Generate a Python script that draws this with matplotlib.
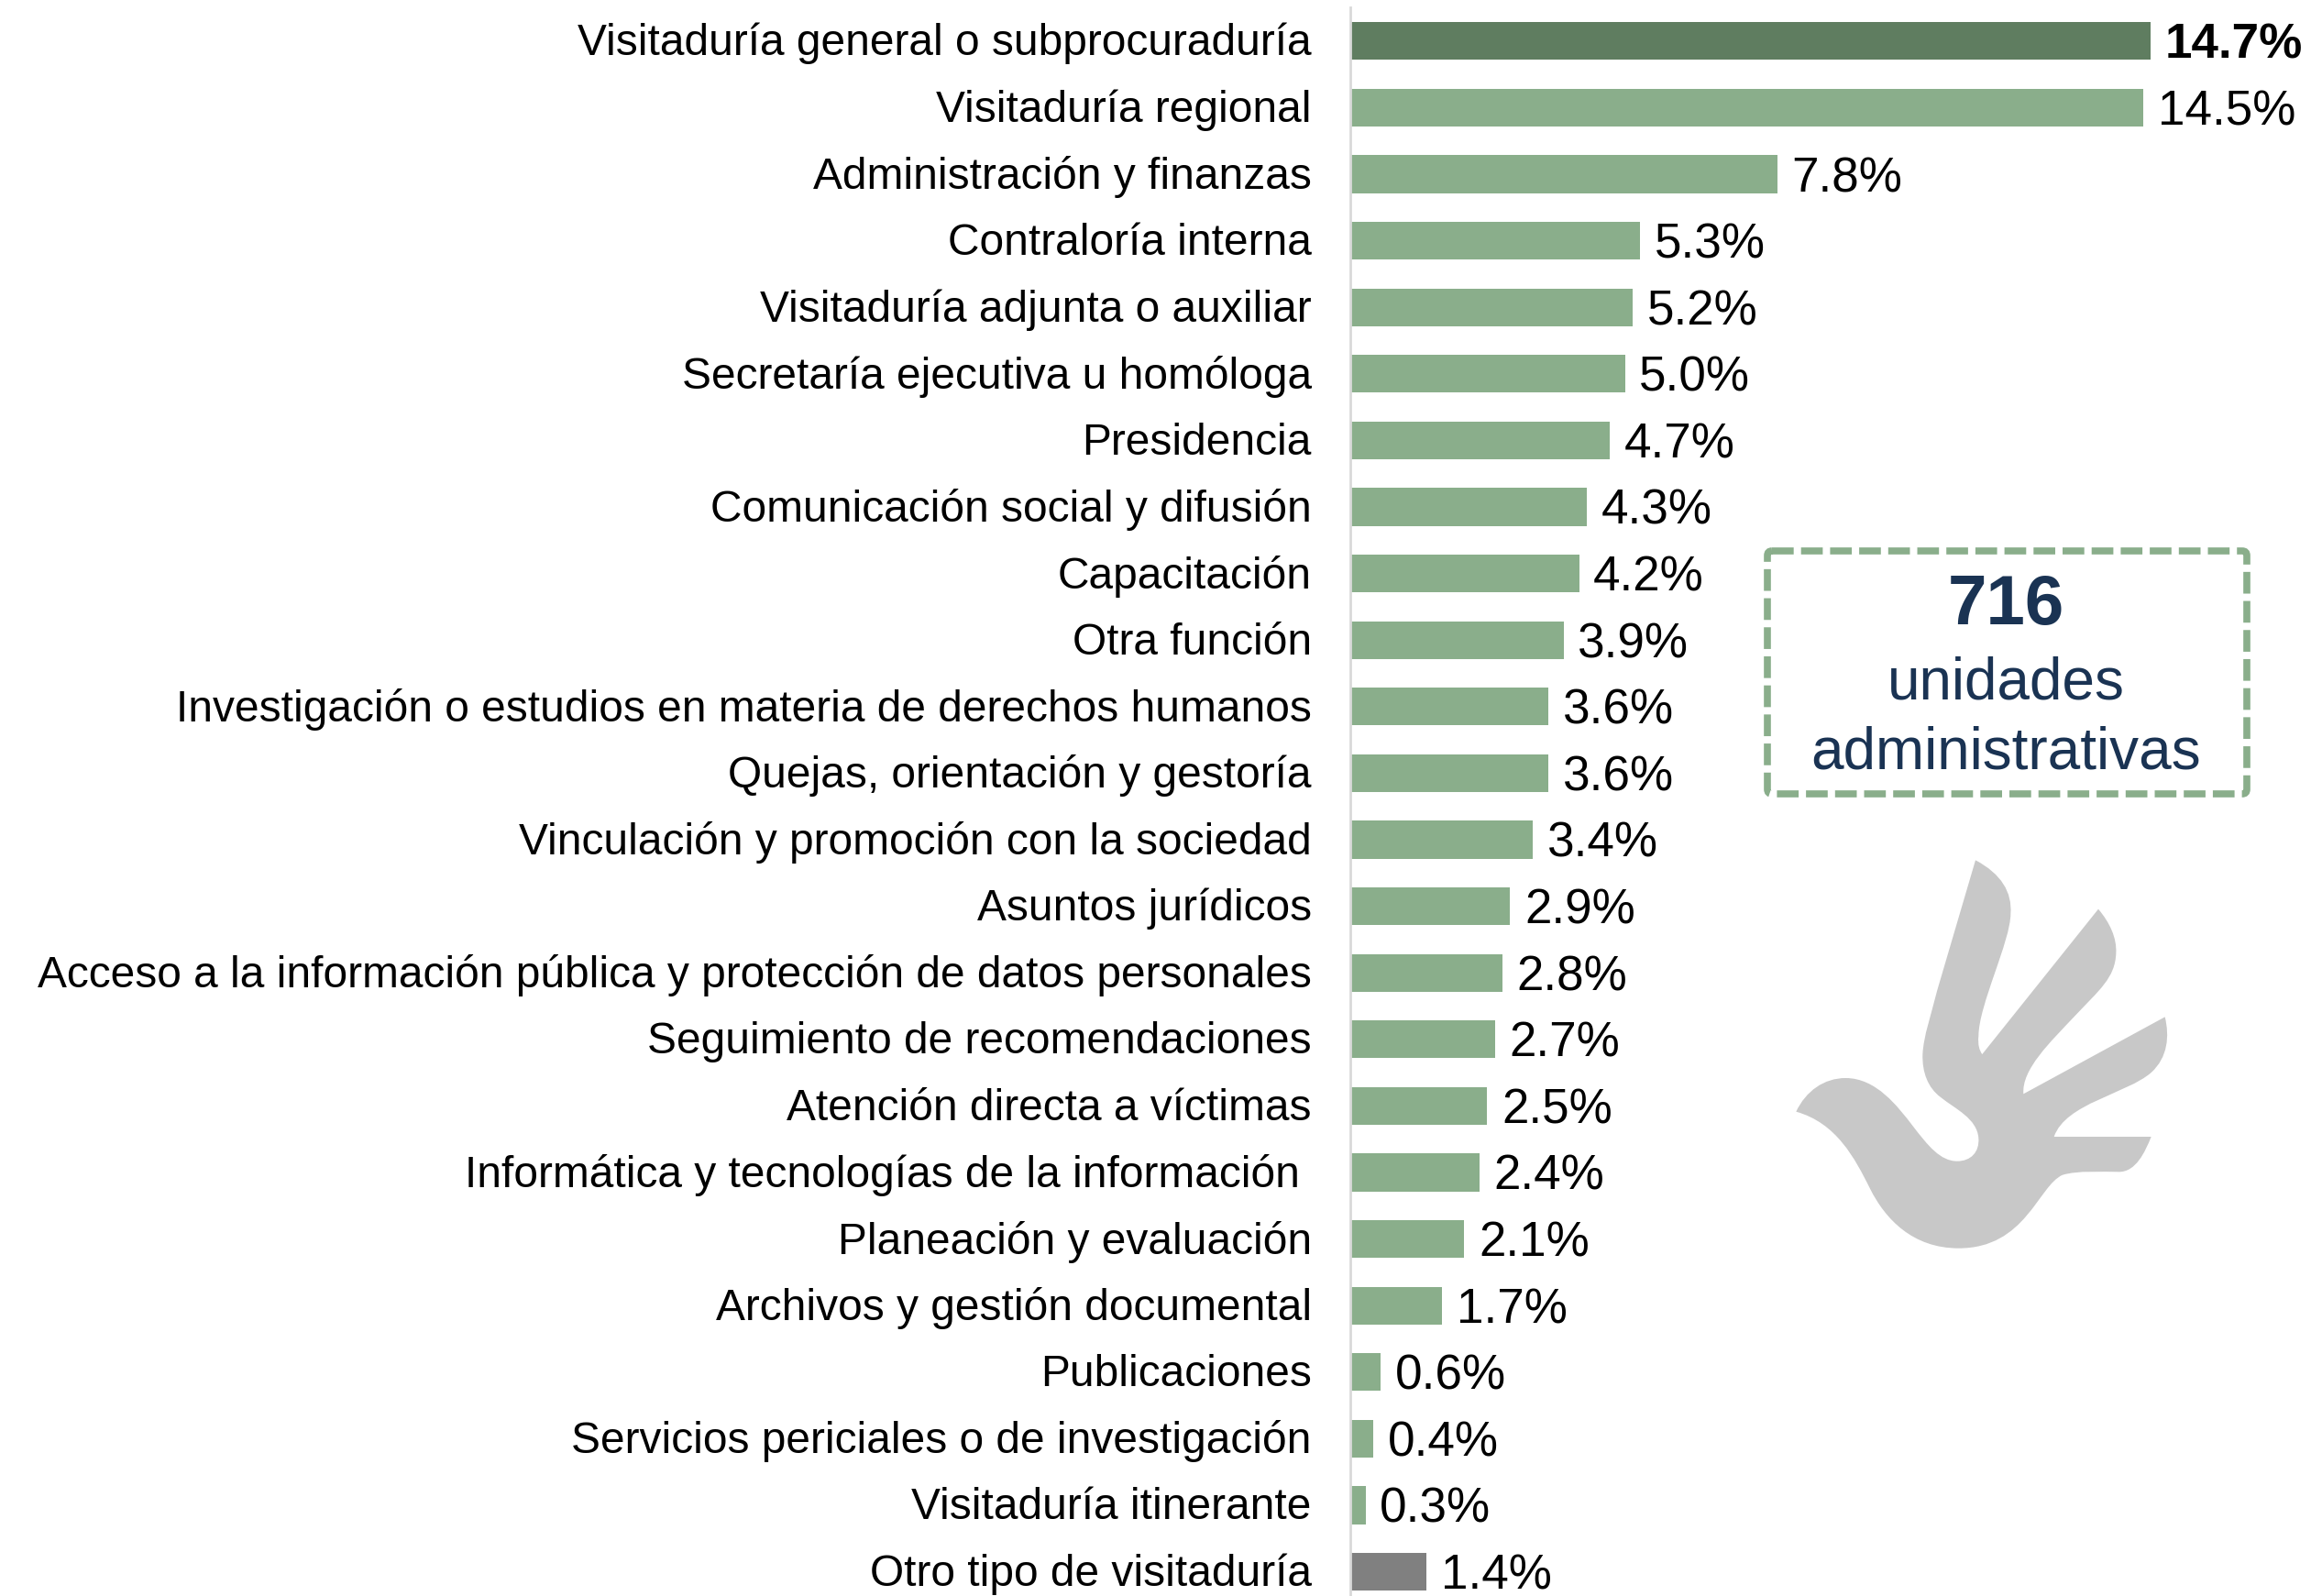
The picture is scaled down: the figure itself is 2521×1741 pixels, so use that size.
# plot.py
# Unidades administrativas por función: barras horizontales con recuadro y logo

import matplotlib
matplotlib.use("Agg")
import matplotlib.pyplot as plt
from matplotlib.patches import FancyBboxPatch, PathPatch
from matplotlib.path import Path
from matplotlib.transforms import Affine2D, ScaledTranslation

categorias = [
    "Visitaduría general o subprocuraduría",
    "Visitaduría regional",
    "Administración y finanzas",
    "Contraloría interna",
    "Visitaduría adjunta o auxiliar",
    "Secretaría ejecutiva u homóloga",
    "Presidencia",
    "Comunicación social y difusión",
    "Capacitación",
    "Otra función",
    "Investigación o estudios en materia de derechos humanos",
    "Quejas, orientación y gestoría",
    "Vinculación y promoción con la sociedad",
    "Asuntos jurídicos",
    "Acceso a la información pública y protección de datos personales",
    "Seguimiento de recomendaciones",
    "Atención directa a víctimas",
    "Informática y tecnologías de la información ",
    "Planeación y evaluación",
    "Archivos y gestión documental",
    "Publicaciones",
    "Servicios periciales o de investigación",
    "Visitaduría itinerante",
    "Otro tipo de visitaduría",
]
# Largo de cada barra (algo más fino que la etiqueta)
valores = [14.66, 14.53, 7.82, 5.31, 5.17, 5.03, 4.75, 4.33, 4.19, 3.91, 3.63, 3.63,
           3.35, 2.93, 2.79, 2.65, 2.51, 2.37, 2.09, 1.68, 0.56, 0.42, 0.28, 1.40]
etiquetas = ["14.7%", "14.5%", "7.8%", "5.3%", "5.2%", "5.0%", "4.7%", "4.3%",
             "4.2%", "3.9%", "3.6%", "3.6%", "3.4%", "2.9%", "2.8%", "2.7%",
             "2.5%", "2.4%", "2.1%", "1.7%", "0.6%", "0.4%", "0.3%", "1.4%"]

VERDE = "#8AAE8B"
VERDE_OSC = "#5F7D60"
GRIS = "#808080"
AZUL = "#1A3353"

plt.rcParams["font.family"] = ["Liberation Sans", "DejaVu Sans"]

W, H = 2521, 1741
fig = plt.figure(figsize=(W / 100, H / 100), dpi=100)

# Eje: x=0 en el pixel 1473, 59.55 px por punto porcentual
x0 = 1473
ax = fig.add_axes([x0 / W, 0, (W - x0) / W, 1])
ax.set_xlim(0, (W - x0) / 59.55)
ax.set_ylim((H - 44.8) / 72.6, -44.8 / 72.6)

colores = [VERDE] * len(valores)
colores[0] = VERDE_OSC
colores[-1] = GRIS
posiciones = list(range(len(valores)))
ax.barh(posiciones, valores, height=0.57, color=colores)

for i, v in enumerate(valores):
    ax.annotate(etiquetas[i], (v, i), xytext=(11.2, -3.6), textcoords="offset points",
                va="center", ha="left", fontsize=38.2, color="black",
                fontweight="bold" if i == 0 else "normal")

ax.set_yticks(posiciones)
ax.set_yticklabels(categorias, fontsize=34.5, color="black")
ax.tick_params(axis="y", length=0, pad=30.5)
sube = ScaledTranslation(0, 1.5 / 72, fig.dpi_scale_trans)
for etiqueta in ax.get_yticklabels():
    etiqueta.set_transform(etiqueta.get_transform() + sube)
ax.xaxis.set_visible(False)
for lado in ["top", "right", "bottom"]:
    ax.spines[lado].set_visible(False)
ax.spines["left"].set_color("#D9D9D9")
ax.spines["left"].set_linewidth(2)
ax.spines["left"].set_bounds(-0.507, (H - 44.8) / 72.6)

# Transformación en pixeles desde la esquina superior izquierda
px = Affine2D().scale(1, -1).translate(0, H)

# Recuadro punteado
caja = FancyBboxPatch((1928, 601), 523, 265, boxstyle="round,pad=0,rounding_size=5",
                      fill=False, edgecolor=VERDE, linewidth=5.5,
                      linestyle=(0, (3.1, 1.05)), capstyle="butt", transform=px)
fig.add_artist(caja)

fig.text(2188 / W, 1 - 661.5 / H, "716", fontsize=55, fontweight="bold", color=AZUL,
         ha="center", va="center")
fig.text(2188 / W, 1 - 746 / H, "unidades", fontsize=46, color=AZUL,
         ha="center", va="center")
fig.text(2188 / W, 1 - 821 / H, "administrativas", fontsize=46, color=AZUL,
         ha="center", va="center")

# Logo (mano-paloma), contorno con curvas de Bezier en coordenadas del recorte
contorno = [
    ("M", (765, 115)),
    ("C", (850, 160), (885, 220), (880, 290)),
    ("C", (880, 380), (775, 590), (775, 690)),
    ("C", (772, 720), (778, 738), (787, 750)),
    ("L", (1167, 275)),
    ("C", (1205, 320), (1228, 370), (1225, 420)),
    ("C", (1222, 500), (1170, 540), (1090, 625)),
    ("C", (1010, 710), (915, 800), (922, 880)),
    ("L", (1385, 628)),
    ("C", (1400, 690), (1395, 760), (1340, 810)),
    ("C", (1260, 880), (1060, 910), (1022, 1020)),
    ("L", (1340, 1020)),
    ("C", (1320, 1070), (1290, 1135), (1235, 1135)),
    ("C", (1180, 1135), (1100, 1130), (1050, 1145)),
    ("C", (970, 1180), (930, 1385), (710, 1385)),
    ("C", (560, 1385), (470, 1290), (420, 1190)),
    ("C", (370, 1090), (310, 975), (178, 938)),
    ("C", (210, 870), (270, 828), (340, 828)),
    ("C", (440, 828), (510, 920), (560, 985)),
    ("C", (610, 1050), (650, 1100), (705, 1100)),
    ("C", (750, 1100), (778, 1070), (775, 1025)),
    ("C", (770, 960), (700, 930), (650, 890)),
    ("C", (610, 860), (590, 810), (592, 750)),
    ("C", (595, 690), (620, 620), (640, 540)),
    ("L", (765, 115)),
]
verts, codes = [], []
for seg in contorno:
    tipo, puntos = seg[0], seg[1:]
    for p in puntos:
        verts.append((1900 + p[0] / 3, 900 + p[1] / 3))
    if tipo == "M":
        codes.append(Path.MOVETO)
    elif tipo == "L":
        codes.append(Path.LINETO)
    else:
        codes.extend([Path.CURVE4] * 3)
logo = PathPatch(Path(verts, codes), facecolor="#C8C8C8", edgecolor="none", transform=px)
fig.add_artist(logo)

fig.savefig("out.png", dpi=100)
